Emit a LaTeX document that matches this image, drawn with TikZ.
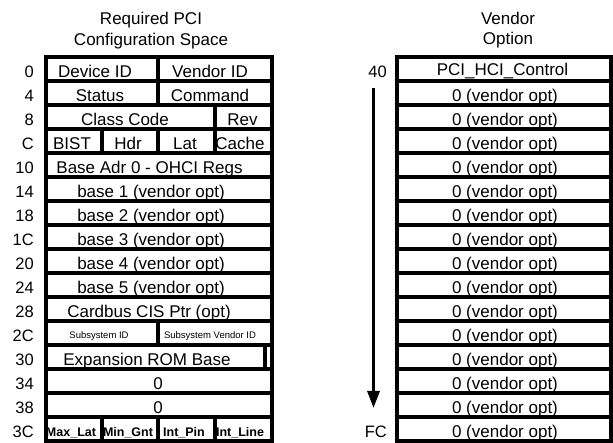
\documentclass[tikz,border=0pt]{standalone}
\usepackage{fontspec}
\setmainfont{Liberation Sans}
\usetikzlibrary{arrows.meta}

\begin{document}
\begin{tikzpicture}[x=1pt, y=-1pt,
      cell/.style={draw, line width=4pt},
      txt/.style={anchor=base, inner sep=0pt, font=\fontsize{17}{20}\selectfont},
      smalltxt/.style={anchor=base, inner sep=0pt, font=\fontsize{9.5}{11}\selectfont},
      boldtxt/.style={anchor=base, inner sep=0pt, font=\fontsize{12.5}{14}\selectfont\bfseries},
      offs/.style={anchor=base east, inner sep=0pt, font=\fontsize{16.5}{19}\selectfont},
      arr/.style={line width=3pt, -{Triangle[length=17pt, width=12pt]}}]
      \useasboundingbox (0,0) rectangle (613,443);
      % titles
      \node[txt] (t1) at (151,25) {Required PCI};
      \node[txt] (t2) at (151,46) {Configuration Space};
      \node[txt] (t3) at (508,24.5) {Vendor};
      \node[txt] (t4) at (508,45) {Option};
      % required configuration space
      \draw[cell] (45.5,57) rectangle (158,81); \draw[cell] (158,57) rectangle (271.5,81);
      \draw[cell] (45.5,81) rectangle (158,105); \draw[cell] (158,81) rectangle (271.5,105);
      \draw[cell] (45.5,105) rectangle (215,129); \draw[cell] (215,105) rectangle (271.5,129);
      \draw[cell] (45.5,129) rectangle (102,153); \draw[cell] (102,129) rectangle (158,153);
      \draw[cell] (158,129) rectangle (215,153); \draw[cell] (215,129) rectangle (271.5,153);
      \draw[cell] (45.5,153) rectangle (271.5,177);
      \draw[cell] (45.5,177) rectangle (271.5,201);
      \draw[cell] (45.5,201) rectangle (271.5,225);
      \draw[cell] (45.5,225) rectangle (271.5,249);
      \draw[cell] (45.5,249) rectangle (271.5,273);
      \draw[cell] (45.5,273) rectangle (271.5,297);
      \draw[cell] (45.5,297) rectangle (271.5,321);
      \draw[cell] (45.5,321) rectangle (158,345); \draw[cell] (158,321) rectangle (271.5,345);
      \draw[cell] (45.5,345) rectangle (264.5,369); \draw[cell] (264.5,345) rectangle (271.5,369);
      \draw[cell] (45.5,369) rectangle (271.5,393);
      \draw[cell] (45.5,393) rectangle (271.5,417);
      \draw[cell] (45.5,417) rectangle (102,441); \draw[cell] (102,417) rectangle (158,441);
      \draw[cell] (158,417) rectangle (215,441); \draw[cell] (215,417) rectangle (271.5,441);
      \node[txt] (dev) at (95,77.5) {Device ID};
      \node[txt] (ven) at (210,77.5) {Vendor ID};
      \node[txt] (stat) at (100,101.5) {Status};
      \node[txt] (cmd) at (210,101.5) {Command};
      \node[txt] (cls) at (125,125.5) {Class Code};
      \node[txt] (rev) at (242.5,125.5) {Rev};
      \node[txt] (bist) at (72,149.5) {BIST};
      \node[txt] (hdr) at (128,149.5) {Hdr};
      \node[txt] (lat) at (185,149.5) {Lat};
      \node[txt] (cache) at (240,149.5) {Cache};
      \node[txt] (bar0) at (149.5,173.5) {Base Adr 0 - OHCI Regs};
      \node[txt] (bar1) at (151,197.5) {base 1 (vendor opt)};
      \node[txt] (bar2) at (151,221.5) {base 2 (vendor opt)};
      \node[txt] (bar3) at (151,245.5) {base 3 (vendor opt)};
      \node[txt] (bar4) at (151,269.5) {base 4 (vendor opt)};
      \node[txt] (bar5) at (151,293.5) {base 5 (vendor opt)};
      \node[txt] (cis) at (149,317.5) {Cardbus CIS Ptr (opt)};
      \node[smalltxt] (ssid) at (99,339) {Subsystem ID};
      \node[smalltxt] (ssvid) at (210,339) {Subsystem Vendor ID};
      \node[txt] (rom) at (147,365.5) {Expansion ROM Base};
      \node[txt] (rsv1) at (158,389.5) {0};
      \node[txt] (rsv2) at (158,413.5) {0};
      \node[boldtxt] (maxlat) at (71,436.7) {Max\_Lat};
      \node[boldtxt] (mingnt) at (128,436.7) {Min\_Gnt};
      \node[boldtxt] (intpin) at (184,436.7) {Int\_Pin};
      \node[boldtxt] (intline) at (240,436.7) {Int\_Line};
      % offsets
      \node[offs] (o0) at (34,77.5) {0};
      \node[offs] (o4) at (34,101.5) {4};
      \node[offs] (o8) at (34,125.5) {8};
      \node[offs] (oC) at (34,149.5) {C};
      \node[offs] (o10) at (34,173.5) {10};
      \node[offs] (o14) at (34,197.5) {14};
      \node[offs] (o18) at (34,221.5) {18};
      \node[offs] (o1C) at (34,245.5) {1C};
      \node[offs] (o20) at (34,269.5) {20};
      \node[offs] (o24) at (34,293.5) {24};
      \node[offs] (o28) at (34,317.5) {28};
      \node[offs] (o2C) at (34,341.5) {2C};
      \node[offs] (o30) at (34,365.5) {30};
      \node[offs] (o34) at (34,389.5) {34};
      \node[offs] (o38) at (34,413.5) {38};
      \node[offs] (o3C) at (34,437.5) {3C};
      % vendor option space
      \draw[cell] (397,57) rectangle (611,81); \draw[cell] (397,81) rectangle (611,105);
      \draw[cell] (397,105) rectangle (611,129); \draw[cell] (397,129) rectangle (611,153);
      \draw[cell] (397,153) rectangle (611,177); \draw[cell] (397,177) rectangle (611,201);
      \draw[cell] (397,201) rectangle (611,225); \draw[cell] (397,225) rectangle (611,249);
      \draw[cell] (397,249) rectangle (611,273); \draw[cell] (397,273) rectangle (611,297);
      \draw[cell] (397,297) rectangle (611,321); \draw[cell] (397,321) rectangle (611,345);
      \draw[cell] (397,345) rectangle (611,369); \draw[cell] (397,369) rectangle (611,393);
      \draw[cell] (397,393) rectangle (611,417); \draw[cell] (397,417) rectangle (611,441);
      \node[txt] (hcictl) at (502.5,76) {PCI\_HCI\_Control};
      \node[txt] (v1) at (505,101.5) {0 (vendor opt)};
      \node[txt] (v2) at (505,125.5) {0 (vendor opt)};
      \node[txt] (v3) at (505,149.5) {0 (vendor opt)};
      \node[txt] (v4) at (505,173.5) {0 (vendor opt)};
      \node[txt] (v5) at (505,197.5) {0 (vendor opt)};
      \node[txt] (v6) at (505,221.5) {0 (vendor opt)};
      \node[txt] (v7) at (505,245.5) {0 (vendor opt)};
      \node[txt] (v8) at (505,269.5) {0 (vendor opt)};
      \node[txt] (v9) at (505,293.5) {0 (vendor opt)};
      \node[txt] (v10) at (505,317.5) {0 (vendor opt)};
      \node[txt] (v11) at (505,341.5) {0 (vendor opt)};
      \node[txt] (v12) at (505,365.5) {0 (vendor opt)};
      \node[txt] (v13) at (505,389.5) {0 (vendor opt)};
      \node[txt] (v14) at (505,413.5) {0 (vendor opt)};
      \node[txt] (v15) at (505,437.5) {0 (vendor opt)};
      \node[offs] (o40) at (387,77.5) {40};
      \node[offs] (oFC) at (387,437.5) {FC};
      \coordinate (atop) at (373.5,88);
      \coordinate (abot) at (373.5,408);
      \draw[arr] (atop) -- (abot);
    \end{tikzpicture}
\end{document}
